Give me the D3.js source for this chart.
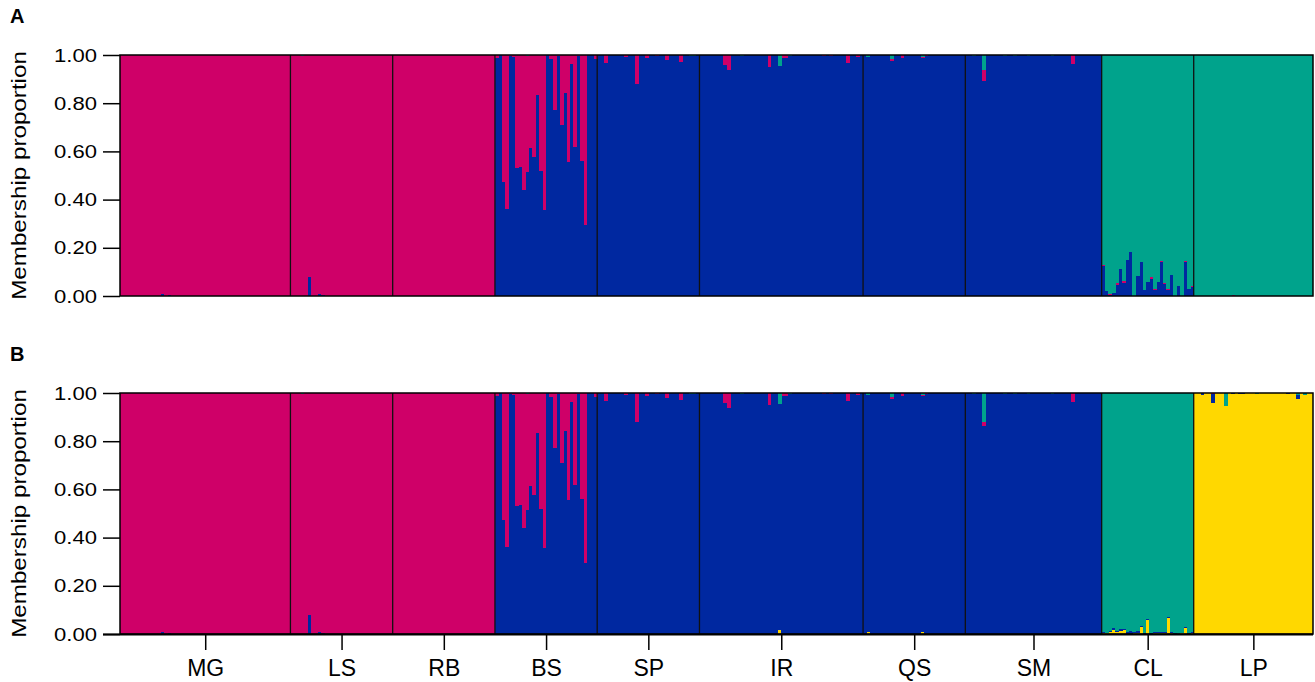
<!DOCTYPE html>
<html><head><meta charset="utf-8">
<script src="https://cdn.jsdelivr.net/npm/d3@7"></script>
<style>body{margin:0;background:#fff;} text{font-family:"Liberation Sans",Arial,Helvetica,sans-serif;}</style>
</head><body><svg id="c" width="1315" height="682"></svg>
<script>
// ---------------- DATA ----------------
const populations = ["MG","LS","RB","BS","SP","IR","QS","SM","CL","LP"];
const popSizes    = [50,30,30,30,30,48,30,40,27,35];
const clustersA = ["blue","pink","green"];            // stacking order bottom -> top
const clustersB = ["yellow","blue","pink","green"];
const dominantA = ["pink","pink","pink","blue","blue","blue","blue","blue","green","green"];
const dominantB = ["pink","pink","pink","blue","blue","blue","blue","blue","green","yellow"];
const yTicks = [0,0.2,0.4,0.6,0.8,1.0];
const panelLabels = ["A","B"];
const yTitle = "Membership proportion";

// BS: pink membership of each individual (rest blue)
const bsPink = [0.012,0,0.526,0.64,0.003,0.008,0.467,0.464,0.559,0.484,0.384,0.423,0.167,0.481,0.643,0,0.017,0.23,0.006,0.29,0.159,0.442,0.038,0.381,0.006,0.44,0.707,0,0,0.015];
// CL, panel A
const clBlueA = [0.126,0.021,0.003,0.014,0.046,0.112,0.055,0.149,0.183,0,0.083,0.141,0.025,0.058,0.072,0.025,0.058,0.141,0.051,0.025,0.089,0,0.041,0,0.141,0.029,0.037];
const clPinkA = [0.004,0,0.004,0,0.01,0,0.008,0,0,0,0,0,0,0,0.008,0.004,0,0.004,0.004,0.004,0,0,0,0,0.004,0,0.004];
// CL, panel B
const clYellowB = [0.003,0.003,0.008,0.018,0.008,0.012,0.017,0,0,0.003,0.004,0.028,0,0.057,0,0.004,0.003,0.004,0.003,0.066,0.004,0,0,0.003,0.025,0,0.004];
const clBlueB   = [0.004,0.003,0.004,0.007,0.004,0.007,0.003,0.007,0.012,0.004,0.008,0.004,0.003,0.004,0.003,0.004,0.004,0.003,0.004,0.004,0.006,0.003,0.002,0.003,0.004,0.003,0.003];

// small admixture: [population, individual, cluster, proportion]
const minorShared = [
 ["MG",12,"blue",0.008],["MG",14,"blue",0.005],
 ["LS",3,"green",0.005],["LS",5,"blue",0.079],["LS",8,"blue",0.008],["LS",9,"blue",0.005],
 ["BS",9,"green",0.003],
 ["SP",2,"pink",0.035],["SP",8,"pink",0.01],["SP",11,"pink",0.12],["SP",14,"pink",0.012],["SP",17,"pink",0.004],["SP",20,"pink",0.02],["SP",24,"pink",0.03],["SP",27,"green",0.004],["SP",28,"green",0.004],
 ["IR",7,"pink",0.041],["IR",8,"pink",0.062],["IR",12,"green",0.003],["IR",20,"pink",0.051],["IR",23,"green",0.046],["IR",24,"pink",0.012],["IR",25,"pink",0.012],["IR",26,"green",0.003],["IR",36,"pink",0.004],["IR",38,"pink",0.004],["IR",43,"pink",0.035],["IR",46,"pink",0.008],
 ["QS",1,"green",0.008],["QS",8,"green",0.017],["QS",8,"pink",0.008],["QS",11,"pink",0.012],["QS",17,"green",0.008],["QS",17,"pink",0.004],["QS",18,"pink",0.004],
 ["SM",2,"green",0.004],["SM",11,"green",0.003],["SM",14,"green",0.003],["SM",18,"green",0.003],["SM",25,"green",0.005],["SM",31,"pink",0.037]
];
const minorOnlyA = [["SM",5,"green",0.062],["SM",5,"pink",0.046],["LP",11,"pink",0.004]];
const minorOnlyB = [
 ["SM",5,"green",0.12],["SM",5,"pink",0.015],
 ["IR",23,"yellow",0.015],["QS",1,"yellow",0.008],["QS",17,"yellow",0.01],
 ["LP",2,"blue",0.008],["LP",5,"blue",0.04],["LP",5,"pink",0.003],["LP",9,"green",0.053],["LP",9,"blue",0.003],
 ["LP",11,"blue",0.003],["LP",13,"blue",0.003],["LP",14,"blue",0.003],["LP",18,"green",0.003],["LP",27,"blue",0.003],
 ["LP",30,"green",0.007],["LP",30,"blue",0.018],["LP",32,"green",0.008]
];

const colors = {pink:"#CF0068", blue:"#0028A0", green:"#00A38C", yellow:"#FFD800"};

// ---------------- BUILD ----------------
function buildPanel(clusters, dominant, minors, clExtra){
  const rows = [];
  populations.forEach((p,pi)=>{
    for(let i=0;i<popSizes[pi];i++){
      const q = {}; clusters.forEach(c=>q[c]=0);
      if(p==="BS") q.pink = bsPink[i];
      if(p==="CL") Object.entries(clExtra).forEach(([c,arr])=>q[c]=arr[i]);
      minors.filter(m=>m[0]===p && m[1]===i).forEach(m=>q[m[2]] += m[3]);
      const others = clusters.filter(c=>c!==dominant[pi]).reduce((s,c)=>s+q[c],0);
      q[dominant[pi]] = 1 - others;
      rows.push(q);
    }
  });
  return rows;
}
const dataA = buildPanel(clustersA, dominantA, minorShared.concat(minorOnlyA), {blue:clBlueA, pink:clPinkA});
const dataB = buildPanel(clustersB, dominantB, minorShared.concat(minorOnlyB), {yellow:clYellowB, blue:clBlueB});

// ---------------- DRAW ----------------
const svg = d3.select("#c");
const N = d3.sum(popSizes);
const x = d3.scaleLinear().domain([0,N]).range([120,1313]);
const bounds = d3.cumsum(popSizes);
const starts = [0].concat(Array.from(bounds).slice(0,-1));
const panels = [
  {data:dataA, clusters:clustersA, top:55, bottom:296, label:panelLabels[0], labelY:23},
  {data:dataB, clusters:clustersB, top:393, bottom:634, label:panelLabels[1], labelY:361}
];
function stretch(sel, f){
  sel.each(function(){
    const L = this.getComputedTextLength();
    d3.select(this).attr("textLength", L*f).attr("lengthAdjust","spacingAndGlyphs");
  });
}

panels.forEach((P,k)=>{
  const y = d3.scaleLinear().domain([0,1]).range([P.bottom,P.top]);
  const g = svg.append("g");
  const stack = d3.stack().keys(P.clusters)(P.data);
  stack.forEach(layer=>{
    g.append("g").attr("fill",colors[layer.key]).selectAll("rect")
      .data(layer).join("rect")
      .attr("x",(d,i)=>x(i)).attr("width",(d,i)=>x(i+1)-x(i)+0.4)
      .attr("y",d=>y(d[1])).attr("height",d=>Math.max(0,y(d[0])-y(d[1])))
      .attr("shape-rendering","crispEdges");
  });
  // population separators
  g.selectAll("line.sep").data(Array.from(bounds).slice(0,-1)).join("line")
    .attr("x1",d=>x(d)).attr("x2",d=>x(d)).attr("y1",P.top).attr("y2",P.bottom)
    .attr("stroke","#111").attr("stroke-width",1.3);
  // frame
  g.append("rect").attr("x",x(0)).attr("y",P.top).attr("width",x(N)-x(0)).attr("height",P.bottom-P.top)
    .attr("fill","none").attr("stroke","#000").attr("stroke-width",1.5);
  // y axis
  const ax = svg.append("g").attr("transform",`translate(${x(0)},0)`)
    .call(d3.axisLeft(y).tickValues(yTicks).tickFormat(d3.format(".2f")).tickSize(17).tickPadding(6));
  ax.select(".domain").remove();
  ax.selectAll(".tick line").attr("stroke","#000").attr("stroke-width",1.5);
  ax.selectAll(".tick text").attr("font-size",19).attr("fill","#000")
    .style("font-family",'"Liberation Sans",Arial,sans-serif').call(stretch,1.16);
  // y title
  svg.append("text").attr("transform",`translate(26,${(P.top+P.bottom)/2}) rotate(-90)`)
    .attr("text-anchor","middle").attr("font-size",20.5).text(yTitle).call(stretch,1.18);
  // panel label
  svg.append("text").attr("x",10).attr("y",P.labelY).attr("font-size",20).attr("font-weight","bold").text(P.label);
});

// x axis (bottom)
const centers = populations.map((p,i)=>x(starts[i]+popSizes[i]/2));
const xAxisScale = d3.scaleOrdinal().domain(populations).range(centers);
const xa = svg.append("g").attr("transform","translate(0,634)")
  .call(d3.axisBottom(xAxisScale).tickSize(16).tickPadding(10));
xa.select(".domain").remove();
xa.selectAll(".tick line").attr("stroke","#000").attr("stroke-width",1.5);
xa.selectAll(".tick text").attr("font-size",23).attr("fill","#000")
  .style("font-family",'"Liberation Sans",Arial,sans-serif');
svg.append("line").attr("x1",103).attr("x2",1313).attr("y1",634.5).attr("y2",634.5)
  .attr("stroke","#000").attr("stroke-width",2);
</script></body></html>
